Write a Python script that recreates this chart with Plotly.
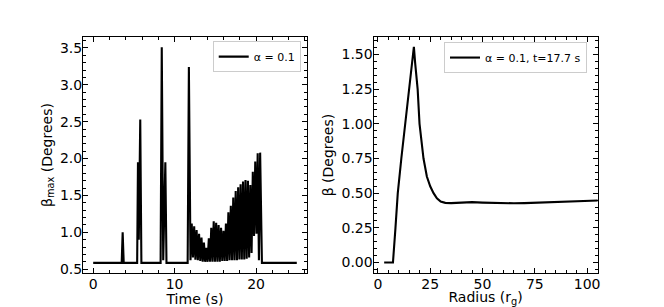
import plotly.graph_objects as go

# ---- Left panel data: beta_max vs time ----
time_s = [0.0, 3.50, 3.62, 3.75, 5.40, 5.50, 5.60, 5.78, 5.92, 8.28, 8.42, 8.60, 8.86, 9.00, 11.60, 11.75, 11.95,
          12.10, 12.25, 12.40, 12.55, 12.70, 12.85, 13.00, 13.15, 13.30, 13.45, 13.60, 13.75, 13.90, 14.05,
          14.20, 14.35, 14.50, 14.65, 14.80, 14.95, 15.10, 15.25, 15.40, 15.55, 15.70, 15.85, 16.00, 16.15,
          16.30, 16.45, 16.60, 16.75, 16.90, 17.05, 17.20, 17.35, 17.50, 17.65, 17.80, 17.95, 18.10, 18.25,
          18.40, 18.55, 18.70, 18.85, 19.00, 19.15, 19.30, 19.45, 19.60, 19.75, 19.90, 20.05, 20.20, 20.35,
          20.50, 20.72, 25.0]
beta_max = [0.585, 0.585, 1.00, 0.585, 0.585, 1.95, 0.90, 2.53, 0.585, 0.585, 3.51, 0.62, 1.95, 0.585, 0.585, 3.24, 0.62,
            1.12, 0.66, 1.08, 0.63, 1.03, 0.62, 0.98, 0.61, 0.93, 0.60, 0.86, 0.60, 0.79, 0.60,
            0.92, 0.60, 1.06, 0.60, 1.15, 0.60, 1.13, 0.60, 1.10, 0.60, 1.06, 0.61, 1.02, 0.61,
            1.12, 0.61, 1.27, 0.62, 1.36, 0.62, 1.47, 0.62, 1.56, 0.62, 1.61, 0.63, 1.65, 0.63,
            1.69, 0.63, 1.71, 0.64, 1.70, 0.66, 1.64, 0.72, 1.82, 0.95, 1.96, 0.98, 2.07, 0.62,
            2.08, 0.585, 0.585]

# ---- Right panel data: beta vs radius at t = 17.7 s ----
radius_rg = [3.0, 7.2, 8.4, 9.5, 11.2, 13.1, 15.0, 16.3, 16.9, 17.2, 17.8, 19.0, 19.9, 20.8, 21.8, 23.4, 25.0,
             26.6, 28.2, 30.0, 32.2, 35.0, 40.0, 45.0, 50.0, 55.0, 60.0, 65.0, 70.0, 75.0, 80.0, 85.0,
             90.0, 95.0, 100.0, 106.0]
beta_deg = [0.0, 0.0, 0.25, 0.50, 0.75, 1.00, 1.25, 1.45, 1.53, 1.556, 1.44, 1.25, 1.00, 0.86, 0.75, 0.62, 0.55,
            0.50, 0.463, 0.44, 0.43, 0.428, 0.433, 0.435, 0.432, 0.429, 0.427, 0.427, 0.428, 0.430, 0.432, 0.435,
            0.438, 0.441, 0.444, 0.447]

legend_left = "α = 0.1"
legend_right = "α = 0.1, t=17.7 s"

FONT = "DejaVu Sans"

fig = go.Figure()
fig.add_trace(go.Scatter(x=time_s, y=beta_max, mode="lines", name=legend_left,
                         line=dict(color="black", width=2.1), xaxis="x", yaxis="y", legend="legend"))
fig.add_trace(go.Scatter(x=radius_rg, y=beta_deg, mode="lines", name=legend_right,
                         line=dict(color="black", width=2.1), xaxis="x2", yaxis="y2", legend="legend2"))


def axis(domain, rng, dtick, minor_dtick, fmt, title, anchor, is_y):
    return dict(
        domain=domain, range=rng, dtick=dtick, tick0=0, tickformat=fmt,
        showline=True, linecolor="black", linewidth=1, mirror="allticks",
        ticks="inside", ticklen=5, tickwidth=1, tickcolor="black",
        showgrid=False, zeroline=False, anchor=anchor, automargin=False,
        ticklabelstandoff=-3 if is_y else -2,
        tickfont=dict(family=FONT, size=14, color="black"),
        title=dict(text=title, font=dict(family=FONT, size=14, color="black"),
                   standoff=4 if is_y else 2),
        minor=dict(ticks="inside", ticklen=3, tickwidth=1, tickcolor="black", dtick=minor_dtick, showgrid=False),
    )


fig.update_layout(
    width=664, height=307,
    margin=dict(l=0, r=0, t=0, b=0, autoexpand=False),
    paper_bgcolor="white", plot_bgcolor="white",
    font=dict(family=FONT, size=14, color="black"),
    xaxis=axis([0.125, 0.4623], [-1.25, 26.25], 10, 2, "d", "Time (s)", "y", False),
    yaxis=axis([0.11, 0.88], [0.445, 3.65], 0.5, 0.1, ".1f", "β<sub>max</sub> (Degrees)", "x", True),
    xaxis2=axis([0.5625, 0.9], [-2.1, 105], 25, 5, "d", "Radius (r<sub>g</sub>)", "y2", False),
    yaxis2=axis([0.11, 0.88], [-0.0775, 1.6275], 0.25, 0.05, ".2f", "β (Degrees)", "x2", True),
    legend=dict(x=0.4529, xanchor="right", y=0.866, yanchor="top", bgcolor="white",
                bordercolor="#cccccc", borderwidth=1, font=dict(family=FONT, size=11, color="black"),
                tracegroupgap=0),
    legend2=dict(x=0.884, xanchor="right", y=0.863, yanchor="top", bgcolor="white",
                 bordercolor="#cccccc", borderwidth=1, font=dict(family=FONT, size=11, color="black"),
                 tracegroupgap=0),
    showlegend=True,
)

fig.write_html("out.html", config={"displayModeBar": False},
               post_script="document.body.style.margin='0px';document.body.style.padding='0px';")
